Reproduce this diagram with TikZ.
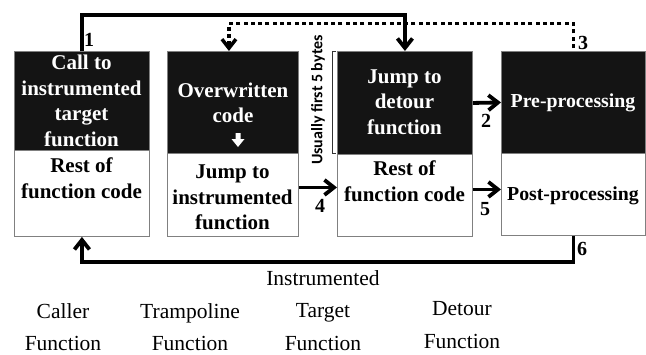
\documentclass[tikz,border=0pt]{standalone}
\usepackage{fontspec}
\setmainfont{Liberation Serif}
\newfontfamily\notefont{Carlito}
\usetikzlibrary{arrows.meta,calc}

\begin{document}
\begin{tikzpicture}[x=1pt,y=-1pt,
  darkbox/.style={draw=black!50, line width=0.9pt, fill=black!92, inner sep=0pt, anchor=north west},
  lightbox/.style={draw=black!50, line width=0.9pt, fill=white, inner sep=0pt, anchor=north west},
  intext/.style={font=\bfseries\fontsize{21}{25.5}\selectfont, align=center, inner sep=0pt},
  outtext/.style={font=\fontsize{21.5}{32.5}\selectfont, align=center, inner sep=0pt},
  stepno/.style={font=\bfseries\fontsize{20}{24}\selectfont, inner sep=0pt},
  flow/.style={line width=3.8pt, -{Straight Barb[length=9.5pt,width=15pt]}},
  hookflow/.style={line width=3.5pt, dash pattern=on 4pt off 3.3pt, -{Straight Barb[length=9pt,width=14pt]}},
]
\useasboundingbox (0,0) rectangle (646,354);

% caller function
\node[darkbox, minimum width=135pt, minimum height=99pt] (c1) at (14,51) {};
\node[lightbox, minimum width=135pt, minimum height=86pt] (c2) at (14,150) {};
% trampoline function
\node[darkbox, minimum width=131pt, minimum height=102pt] (tr1) at (167,51) {};
\node[lightbox, minimum width=131pt, minimum height=83pt] (tr2) at (167,153) {};
% instrumented target function
\node[darkbox, minimum width=135pt, minimum height=103pt] (t1) at (337,51) {};
\node[lightbox, minimum width=135pt, minimum height=82pt] (t2) at (337,154) {};
% detour function
\node[darkbox, minimum width=144pt, minimum height=102pt] (d1) at (501,51) {};
\node[lightbox, minimum width=144pt, minimum height=82pt] (d2) at (501,153) {};

% box contents
\node[intext, text=white] (c1t) at (81.5,101) {Call to\\instrumented\\target\\function};
\node[intext] (c2t) at (81.5,178) {Rest of\\function code};
\node[intext, text=white] (tr1t) at (233,103) {Overwritten\\code};
\node[intext] (tr2t) at (232.5,197.5) {Jump to\\instrumented\\function};
\node[intext, text=white] (t1t) at (404.5,102) {Jump to\\detour\\function};
\node[intext] (t2t) at (404.5,181) {Rest of\\function code};
\node[intext, text=white, font=\bfseries\fontsize{19.8}{24}\selectfont] (d1t) at (573,103) {Pre-processing};
\node[intext, font=\bfseries\fontsize{19.8}{24}\selectfont] (d2t) at (573,195.5) {Post-processing};

% small white arrow under the overwritten code
\fill[white] (235.5,133) -- (240.5,133) -- (240.5,139) -- (244.5,139)
  -- (238,147) -- (231.5,139) -- (235.5,139) -- cycle;

% bracket marking the patched bytes
\draw[line width=0.8pt, black!80] ($(t1.north west)+(-1,0)$) -- ++(-4,0)
  |- ($(t1.south west)+(-1,-2)$);
\node[rotate=90, font=\notefont\bfseries\fontsize{16}{18}\selectfont, inner sep=0pt]
  (bytes) at (318,100) {Usually first 5 bytes};

% control flow
\draw[flow] (c1.north) -- ++(0,-36) -| (t1.north);
\draw[flow] (t1.east) -- (d1.west);
\draw[hookflow] ([yshift=3pt]d1.north) -- ++(0,-24.5) -| ([xshift=-4pt]tr1.north);
\coordinate (a4) at ([yshift=7.5pt]tr2.east);
\draw[flow] (a4) -- (a4 -| t2.west);
\coordinate (a5) at ([yshift=6pt]t2.east);
\draw[flow] (a5) -- (a5 -| d2.west);
\draw[flow] (d2.south) -- ++(0,26) -| (c2.south);

% step numbers
\node[stepno] (n1) at (89,40) {1};
\node[stepno] (n2) at (486,121) {2};
\node[stepno] (n3) at (583,43) {3};
\node[stepno] (n4) at (320,206) {4};
\node[stepno] (n5) at (485,209) {5};
\node[stepno] (n6) at (582,249) {6};

% captions
\node[outtext] (capc) at (63,327) {Caller\\Function};
\node[outtext] (capt) at (190,327) {Trampoline\\Function};
\node[outtext] (capi) at (323,310.5) {Instrumented\\Target\\Function};
\node[outtext] (capd) at (462,325) {Detour\\Function};
\end{tikzpicture}
\end{document}
